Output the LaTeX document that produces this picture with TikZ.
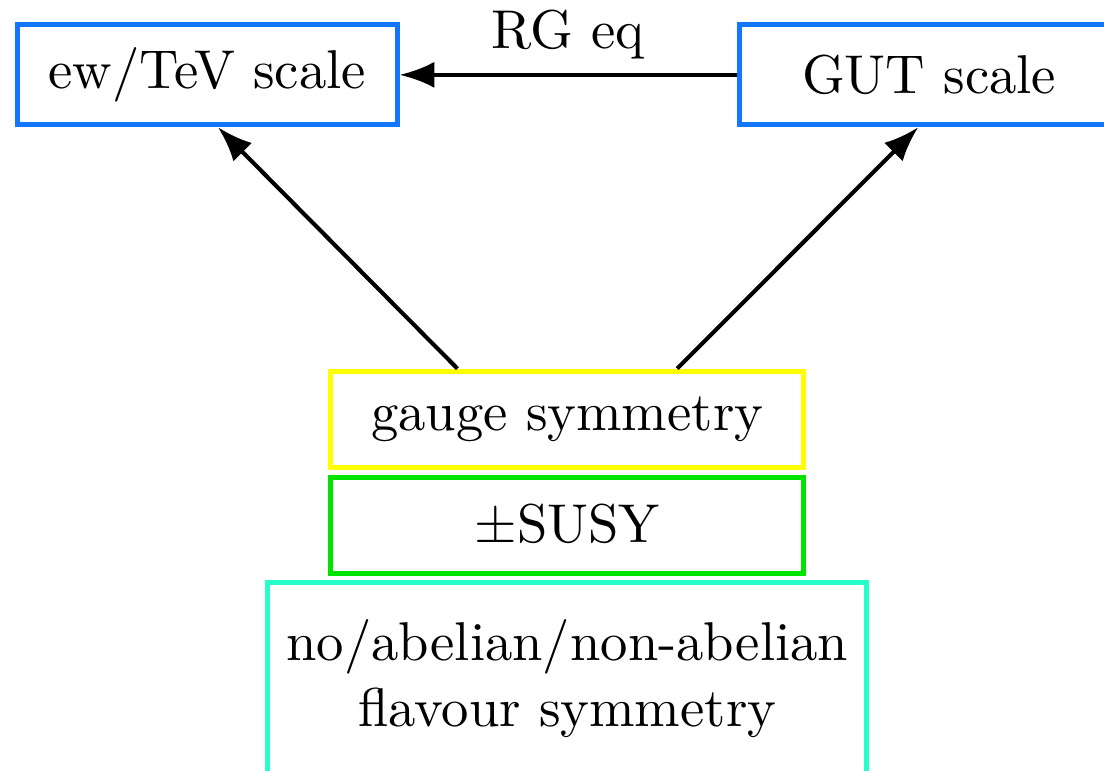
\documentclass[tikz,border=0pt]{standalone}
\usepackage{amsmath,amssymb}
\usepackage{xcolor}
\usetikzlibrary{arrows.meta,positioning}
\definecolor{scaleblue}{RGB}{18,118,255}
\definecolor{gaugeyellow}{RGB}{255,255,0}
\definecolor{susygreen}{RGB}{0,226,0}
\definecolor{flavcyan}{RGB}{36,255,204}

\begin{document}
\begin{tikzpicture}[x=1pt,y=1pt,every node/.style={align=center},scalebox/.style={draw=scaleblue,line width=0.9pt,minimum width=69.5pt,minimum height=18.3pt},symbox/.style={line width=0.9pt,minimum width=86.5pt,minimum height=17.6pt},arrow/.style={-{Latex},line width=0.75pt}]
\useasboundingbox (0,0) rectangle (202,-140.9);
\node[scalebox] (ew) at (37.9,-13.7) {ew/TeV scale};
\node[scalebox] (gut) at (170,-13.7) {GUT scale};
\node[symbox,draw=gaugeyellow] (g) at (103.8,-76.7) {gauge symmetry};
\node[symbox,draw=susygreen,below=0.9pt of g] (s) {$\pm$SUSY};
\node[symbox,draw=flavcyan,minimum width=109.6pt,minimum height=35.1pt,inner sep=2pt,below=0.8pt of s] (f) {no/abelian/non-abelian\\flavour symmetry};
\draw[arrow] (gut) -- node[above,inner sep=2.5pt] {RG eq} (ew);
\draw[arrow] ([xshift=-20.1pt]g.north) -- ([xshift=2pt]ew.south);
\draw[arrow] ([xshift=20.1pt]g.north) -- ([xshift=-2pt]gut.south);
\end{tikzpicture}
\end{document}
